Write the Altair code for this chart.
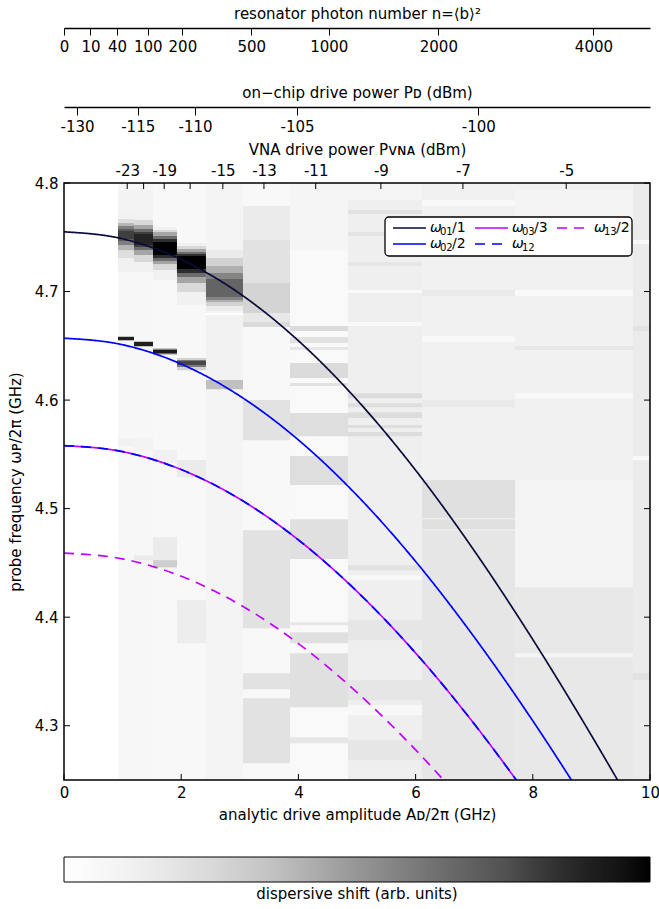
import altair as alt
import pandas as pd

W, H = 586, 597

# ---------------- axis values ----------------
x_ticks = [0, 2, 4, 6, 8, 10]
y_ticks = [4.3, 4.4, 4.5, 4.6, 4.7, 4.8]
vna_dbm = [-23, -21, -19, -17, -15, -13, -11, -9, -7, -5]
vna_hidden = [-21, -17]
onchip_dbm = [-130, -115, -110, -105, -100]
photon_n = [0, 10, 40, 100, 200, 500, 1000, 2000, 4000]
# values of the secondary axes at the right edge of the plot (A = 10 GHz)
vna_dbm_right = -3.66
onchip_dbm_right = -96.99
photon_n_right = 4900

# ---------------- transition curves ----------------
w01_A = [0, 1, 2, 3, 4, 5, 6, 7, 8, 9, 9.5]
w01_f = [4.755, 4.7486, 4.7295, 4.6981, 4.6547, 4.6002, 4.5354, 4.4613, 4.3794, 4.2911, 4.245]
w02_A = [0, 1, 2, 3, 4, 5, 6, 7, 8, 8.8]
w02_f = [4.657, 4.651, 4.6332, 4.6038, 4.5633, 4.5122, 4.4514, 4.3817, 4.3045, 4.2381]
w03_A = [0, 1, 2, 3, 4, 5, 6, 7, 7.9]
w03_f = [4.558, 4.5525, 4.536, 4.5088, 4.4712, 4.4237, 4.367, 4.3017, 4.2365]
w12_A = [0, 1, 2, 3, 4, 5, 6, 7, 7.9]
w12_f = [4.558, 4.5525, 4.536, 4.5088, 4.4712, 4.4237, 4.367, 4.3017, 4.2365]
w13_A = [0, 1, 2, 3, 4, 5, 6, 6.7]
w13_f = [4.459, 4.4537, 4.4377, 4.4116, 4.3757, 4.3307, 4.2778, 4.2365]

series = [("ω₀₁/1", w01_A, w01_f), ("ω₀₂/2", w02_A, w02_f), ("ω₀₃/3", w03_A, w03_f),
          ("ω₁₂", w12_A, w12_f), ("ω₁₃/2", w13_A, w13_f)]
series_order = ["ω₀₁/1", "ω₀₂/2", "ω₀₃/3", "ω₁₂", "ω₁₃/2"]
series_colors = ["#0b0b3b", "#0000ff", "#c000ff", "#0000ff", "#c000ff"]
series_dashes = [[1, 0], [1, 0], [1, 0], [10, 7], [10, 7]]
# legend label pieces: symbol, subscript, suffix
legend_sub = ["01", "02", "03", "12", "13"]
legend_suffix = ["/1", "/2", "/3", "", "/2"]
legend_col = [0, 0, 1, 1, 2]
legend_row = [0, 1, 0, 1, 0]

# ---------------- measured dispersive shift (strips per VNA power) ----------------
strip_edges = [0.921, 1.195, 1.519, 1.928, 2.423, 3.055, 3.857, 4.846, 6.109, 7.696, 9.710, 10.0]
strip_base = [0.07, 0.07, 0.06, 0.06, 0.09, 0.06, 0.05, 0.13, 0.12, 0.12, 0.15]
# (upper frequency, lower frequency, shift)
s0 = [(4.7935, 4.7714, 0.1), (4.7714, 4.7180, 0.12), (4.7668, 4.7309, 0.22), (4.7631, 4.7382, 0.4),
      (4.7604, 4.7429, 0.58), (4.7576, 4.7466, 0.72), (4.7558, 4.7484, 0.8),
      (4.6590, 4.6544, 0.35), (4.6581, 4.6553, 0.9), (4.5650, 4.5576, 0.12)]
s1 = [(4.7935, 4.7696, 0.1), (4.7696, 4.7180, 0.12), (4.7659, 4.7272, 0.25), (4.7613, 4.7336, 0.45),
      (4.7576, 4.7382, 0.65), (4.7548, 4.7410, 0.8), (4.7530, 4.7429, 0.88),
      (4.6544, 4.6488, 0.35), (4.6535, 4.6498, 0.9), (4.5650, 4.5539, 0.1), (4.4571, 4.4525, 0.15)]
s2 = [(4.7594, 4.7106, 0.12), (4.7567, 4.7198, 0.25), (4.7548, 4.7253, 0.45), (4.7512, 4.7281, 0.65),
      (4.7484, 4.7309, 0.85), (4.7456, 4.7336, 1.0),
      (4.6479, 4.6415, 0.35), (4.6465, 4.6429, 0.92), (4.5539, 4.5419, 0.12), (4.4737, 4.4452, 0.15),
      (4.4525, 4.4461, 0.3)]
s3 = [(4.7447, 4.6876, 0.12), (4.7419, 4.6995, 0.25), (4.7392, 4.7078, 0.45), (4.7364, 4.7134, 0.65),
      (4.7346, 4.7170, 0.85), (4.7327, 4.7207, 1.0),
      (4.6387, 4.6276, 0.28), (4.6369, 4.6304, 0.6), (4.6359, 4.6323, 0.78), (4.5447, 4.5290, 0.15),
      (4.4157, 4.3760, 0.14)]
s4 = [(4.7382, 4.6820, 0.15), (4.7309, 4.6866, 0.28), (4.7235, 4.6903, 0.42), (4.7170, 4.6922, 0.56),
      (4.7115, 4.6949, 0.68),
      (4.6802, 4.6783, 0.0), (4.6783, 4.6184, 0.11), (4.6184, 4.6101, 0.36)]
s5 = [(4.7788, 4.7475, 0.15), (4.7475, 4.7078, 0.2), (4.7078, 4.6802, 0.27), (4.6802, 4.6719, 0.17),
      (4.6719, 4.6673, 0.24), (4.6000, 4.5631, 0.2), (4.4802, 4.3898, 0.2), (4.3484, 4.3336, 0.2),
      (4.3253, 4.2654, 0.2)]
s6 = [(4.8, 4.7382, 0.08), (4.6682, 4.6636, 0.24), (4.6581, 4.6525, 0.2), (4.6488, 4.6461, 0.18),
      (4.6341, 4.6203, 0.24), (4.6157, 4.6129, 0.2), (4.5880, 4.5668, 0.22), (4.5484, 4.5217, 0.22),
      (4.4903, 4.4535, 0.21), (4.3954, 4.3926, 0.18), (4.3862, 4.3760, 0.21), (4.3668, 4.3170, 0.21),
      (4.2894, 4.2839, 0.18)]
s7 = [(4.8, 4.7843, 0.08), (4.7751, 4.7714, 0.2), (4.7548, 4.7512, 0.19), (4.7272, 4.7235, 0.18),
      (4.7014, 4.6986, 0.05), (4.6719, 4.6682, 0.06), (4.6064, 4.6018, 0.24), (4.5972, 4.5935, 0.22),
      (4.5889, 4.5834, 0.23), (4.5770, 4.5742, 0.22), (4.5705, 4.5668, 0.23), (4.4479, 4.4433, 0.2),
      (4.4387, 4.4341, 0.06), (4.3972, 4.3788, 0.18), (4.3419, 4.3235, 0.18), (4.3189, 4.3097, 0.06),
      (4.2866, 4.2682, 0.18)]
s8 = [(4.7843, 4.7788, 0.06), (4.7014, 4.6958, 0.16), (4.6590, 4.6535, 0.06), (4.6000, 4.5935, 0.16),
      (4.5263, 4.4912, 0.21), (4.4903, 4.4811, 0.21), (4.4802, 4.25, 0.18)]
s9 = [(4.7935, 4.7382, 0.09), (4.7014, 4.6958, 0.05), (4.6498, 4.6461, 0.18), (4.6064, 4.6018, 0.05),
      (4.5263, 4.4276, 0.09), (4.4276, 4.25, 0.17), (4.3668, 4.3631, 0.08)]
s10 = [(4.7475, 4.7438, 0.05), (4.6682, 4.6636, 0.2), (4.5484, 4.5447, 0.05), (4.3484, 4.3419, 0.2)]
strip_bands = [s0, s1, s2, s3, s4, s5, s6, s7, s8, s9, s10]

# colour map (white -> black, ColorBrewer greys)
cmap_stops = [0, 0.125, 0.25, 0.375, 0.5, 0.625, 0.75, 0.875, 1.0]
cmap_colors = ["#ffffff", "#f0f0f0", "#d9d9d9", "#bdbdbd", "#969696", "#737373", "#525252",
               "#252525", "#000000"]

# ---------------- tables ----------------
rows = []
for i, bands in enumerate(strip_bands):
    a0, a1 = strip_edges[i], strip_edges[i + 1]
    rows.append({"x0": a0, "x1": a1, "f0": 4.25, "f1": 4.8, "v": strip_base[i]})
    for (ft, fb, v) in bands:
        rows.append({"x0": a0, "x1": a1, "f0": fb, "f1": ft, "v": v})
heat_df = pd.DataFrame(rows)

crow = []
for name, A, F in series:
    for a, f in zip(A, F):
        crow.append({"series": name, "A": a, "f": f})
curve_df = pd.DataFrame(crow)

# legend layout (pixels inside the plot area)
LEG_X, LEG_Y, LEG_W, LEG_H = 321, 34, 247, 39
leg_rows = []
for name, sub, suf, c, r in zip(series_order, legend_sub, legend_suffix, legend_col, legend_row):
    x0 = LEG_X + 8 + c * 82
    tx = x0 + 37
    leg_rows.append({"series": name, "sub": sub, "suf": suf, "lx0": x0, "lx1": x0 + 33,
                     "tx": tx, "sx": tx + 10, "fx": tx + 22, "ly": LEG_Y + 11 + r * 16})
leg_df = pd.DataFrame(leg_rows)

xs = alt.Scale(domain=[0, 10], nice=False, zero=False)
ys = alt.Scale(domain=[4.25, 4.8], nice=False, zero=False)
cs = alt.Scale(domain=series_order, range=series_colors)
ds = alt.Scale(domain=series_order, range=series_dashes)

color_legend = alt.Legend(
    orient="none", legendX=0, legendY=674, direction="horizontal",
    gradientLength=W, gradientThickness=25, title="dispersive shift (arb. units)",
    titleOrient="bottom", titleAnchor="middle", titleFontSize=15, titleFontWeight="normal",
    titleColor="black", titlePadding=4, titleLimit=800, labelExpr="''", labelFontSize=1,
    labelOffset=0, gradientStrokeColor="black", gradientStrokeWidth=1, padding=0)

heat = alt.Chart(heat_df).mark_rect(strokeWidth=0).encode(
    x=alt.X("x0:Q", scale=xs, axis=alt.Axis(
        orient="bottom", values=x_ticks, format="d", ticks=False, tickSize=0, domain=False,
        grid=False, labelPadding=5, labelFlush=False, labelOverlap=False,
        title="analytic drive amplitude Aᴅ/2π (GHz)", titlePadding=7)),
    x2="x1:Q",
    y=alt.Y("f0:Q", scale=ys, axis=alt.Axis(
        orient="left", values=y_ticks, format=".1f", ticks=False, tickSize=0, domain=False,
        grid=False, labelPadding=6, labelFlush=False, labelOverlap=False,
        title="probe frequency ωᴘ/2π (GHz)", titlePadding=11)),
    y2="f1:Q",
    color=alt.Color("v:Q", scale=alt.Scale(domain=cmap_stops, range=cmap_colors),
                    legend=color_legend),
)

lines = alt.Chart(curve_df).mark_line(strokeWidth=1.7, interpolate="monotone", clip=True).encode(
    x=alt.X("A:Q", scale=xs, axis=None),
    y=alt.Y("f:Q", scale=ys, axis=None),
    color=alt.Color("series:N", scale=cs, legend=None),
    strokeDash=alt.StrokeDash("series:N", scale=ds, legend=None),
)

xt = alt.Chart(pd.DataFrame({"t": x_ticks})).mark_rule(color="black", strokeWidth=1).encode(
    x=alt.X("t:Q", scale=xs, axis=None), y=alt.value(H), y2=alt.value(H - 6))
ytl = alt.Chart(pd.DataFrame({"t": y_ticks})).mark_rule(color="black", strokeWidth=1).encode(
    y=alt.Y("t:Q", scale=ys, axis=None), x=alt.value(0), x2=alt.value(6))
ytr = alt.Chart(pd.DataFrame({"t": y_ticks})).mark_rule(color="black", strokeWidth=1).encode(
    y=alt.Y("t:Q", scale=ys, axis=None), x=alt.value(W), x2=alt.value(W - 6))

db_expr = "round(10*log(datum.value)/LN10)"
vna = alt.Chart(pd.DataFrame({"dbm": vna_dbm})).transform_calculate(
    p="pow(10, datum.dbm/10)").mark_rule(color="black", strokeWidth=1).encode(
    x=alt.X("p:Q", scale=alt.Scale(type="sqrt", domain=[0, 10 ** (vna_dbm_right / 10)], nice=False),
            axis=alt.Axis(orient="top", values=[10 ** (d / 10) for d in vna_dbm],
                          labelExpr=f"indexof({vna_hidden}, {db_expr}) >= 0 ? '' : '' + {db_expr}",
                          ticks=False, tickSize=0, domain=False, grid=False, labelPadding=5,
                          labelFlush=False, labelOverlap=False,
                          title="VNA drive power Pᴠɴᴀ (dBm)", titlePadding=6)),
    y=alt.value(0), y2=alt.value(6))

onchip = alt.Chart(pd.DataFrame({"dbm": onchip_dbm})).transform_calculate(
    p="pow(10, datum.dbm/10)").mark_point(opacity=0).encode(
    x=alt.X("p:Q", scale=alt.Scale(type="sqrt", domain=[0, 10 ** (onchip_dbm_right / 10)], nice=False),
            axis=alt.Axis(orient="bottom", offset=-(H + 76), values=[10 ** (d / 10) for d in onchip_dbm],
                          labelExpr=f"'' + {db_expr}", tickSize=8, tickColor="black", tickWidth=1,
                          domain=True, domainColor="black", domainWidth=1.5, grid=False,
                          labelPadding=4, labelFlush=False, labelOverlap=False,
                          title="on−chip drive power Pᴅ (dBm)", titleY=-15, titleBaseline="middle")),
    y=alt.value(0))

photon = alt.Chart(pd.DataFrame({"n": photon_n})).mark_point(opacity=0).encode(
    x=alt.X("n:Q", scale=alt.Scale(type="sqrt", domain=[0, photon_n_right], nice=False),
            axis=alt.Axis(orient="bottom", offset=-(H + 155), values=photon_n, format="d",
                          tickSize=7, tickColor="black", tickWidth=1,
                          domain=True, domainColor="black", domainWidth=1.5, grid=False,
                          labelPadding=4, labelFlush=False, labelOverlap=False,
                          title="resonator photon number n=⟨b⟩²", titleY=-15, titleBaseline="middle")),
    y=alt.value(0))

frame = alt.Chart(pd.DataFrame({"a": [0]})).mark_rect(fillOpacity=0, stroke="black", strokeWidth=1.5).encode(
    x=alt.value(0), x2=alt.value(W), y=alt.value(0), y2=alt.value(H))

# legend for the curves
leg_box = alt.Chart(pd.DataFrame({"a": [0]})).mark_rect(
    fill="white", stroke="black", strokeWidth=1.3, cornerRadius=4).encode(
    x=alt.value(LEG_X), x2=alt.value(LEG_X + LEG_W), y=alt.value(LEG_Y), y2=alt.value(LEG_Y + LEG_H))
leg_lines = alt.Chart(leg_df).mark_rule(strokeWidth=1.7).encode(
    x=alt.X("lx0:Q", scale=None, axis=None), x2="lx1:Q",
    y=alt.Y("ly:Q", scale=None, axis=None),
    color=alt.Color("series:N", scale=cs, legend=None),
    strokeDash=alt.StrokeDash("series:N", scale=ds, legend=None))
leg_sym = alt.Chart(leg_df).mark_text(align="left", baseline="middle", fontSize=14, fontStyle="italic",
                                      font="DejaVu Sans", color="black", text="ω").encode(
    x=alt.X("tx:Q", scale=None, axis=None), y=alt.Y("ly:Q", scale=None, axis=None))
leg_subt = alt.Chart(leg_df).mark_text(align="left", baseline="middle", fontSize=10, dy=4,
                                       font="DejaVu Sans", color="black").encode(
    x=alt.X("sx:Q", scale=None, axis=None), y=alt.Y("ly:Q", scale=None, axis=None), text="sub:N")
leg_suf = alt.Chart(leg_df).mark_text(align="left", baseline="middle", fontSize=14,
                                      font="DejaVu Sans", color="black").encode(
    x=alt.X("fx:Q", scale=None, axis=None), y=alt.Y("ly:Q", scale=None, axis=None), text="suf:N")

chart = alt.layer(heat, lines, xt, ytl, ytr, vna, onchip, photon, frame,
                  leg_box, leg_lines, leg_sym, leg_subt, leg_suf).resolve_scale(
    x="independent", y="independent", color="independent", strokeDash="independent"
).properties(
    width=W, height=H, autosize=alt.AutoSizeParams(type="none"),
    padding={"left": 64, "top": 183, "right": 9, "bottom": 129},
).configure(font="DejaVu Sans").configure_axis(
    labelFontSize=15, titleFontSize=15, titleFontWeight="normal", labelColor="black",
    titleColor="black", labelFont="DejaVu Sans", titleFont="DejaVu Sans"
).configure_legend(labelFont="DejaVu Sans", titleFont="DejaVu Sans").configure_view(stroke=None)

chart.save("out.html", embed_options={"renderer": "svg", "actions": False})
